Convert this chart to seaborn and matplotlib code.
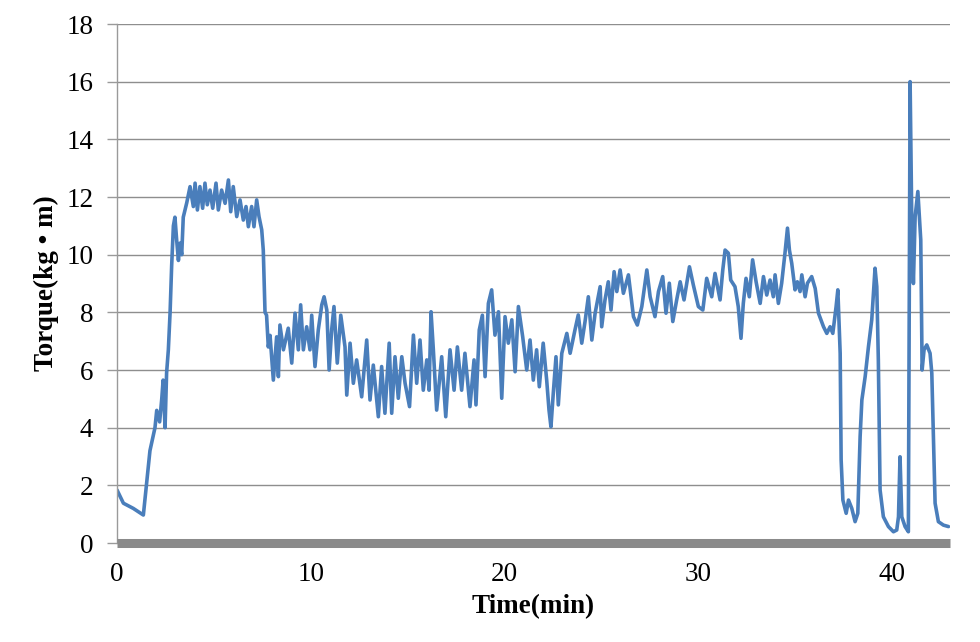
import matplotlib
matplotlib.use("Agg")
import matplotlib.pyplot as plt
import seaborn as sns
import pandas as pd

# ---- data ----
time_min = [
    0.00, 0.33, 0.84, 1.36, 1.53, 1.70, 1.96, 2.05, 2.20, 2.31, 2.38, 2.48, 2.56, 2.65, 2.74, 2.82,
    2.91, 2.99, 3.08, 3.17, 3.25, 3.34, 3.42, 3.60,
    3.77, 3.94, 4.03, 4.15, 4.28, 4.42, 4.54, 4.66, 4.80, 4.94, 5.11, 5.23, 5.40, 5.58, 5.75, 5.87,
    6.00, 6.18, 6.35, 6.52, 6.66, 6.78, 6.95, 7.07, 7.21, 7.33, 7.47, 7.55,
    7.64, 7.72, 7.81, 7.90, 8.07, 8.24, 8.33, 8.41, 8.59, 8.84, 9.02, 9.19, 9.36, 9.48, 9.62, 9.79,
    9.96, 10.05, 10.22, 10.39, 10.57, 10.69, 10.83, 10.95, 11.08, 11.20, 11.37, 11.55, 11.77, 11.86,
    12.03, 12.20, 12.37, 12.63, 12.89, 13.06, 13.23, 13.49, 13.66, 13.83, 14.05, 14.18, 14.35, 14.52,
    14.70, 14.87, 15.10, 15.30, 15.47, 15.64, 15.81, 15.99, 16.11, 16.21, 16.33, 16.50, 16.76, 16.97,
    17.19, 17.40, 17.57, 17.79, 17.96, 18.22, 18.43, 18.53, 18.70, 18.86, 19.00, 19.17, 19.34, 19.51,
    19.69, 19.86, 20.03, 20.20, 20.38, 20.55, 20.72, 20.94, 21.15, 21.32, 21.49, 21.66, 21.80, 22.00,
    22.18, 22.30, 22.40, 22.52, 22.66, 22.78, 22.96, 23.22, 23.39, 23.64, 23.81, 23.99, 24.16, 24.33,
    24.51, 24.68, 24.94, 25.02, 25.19, 25.36, 25.50, 25.66, 25.80, 25.97, 26.14, 26.40, 26.66, 26.86,
    27.09, 27.35, 27.52, 27.77, 27.95, 28.17, 28.34, 28.51, 28.69, 28.89, 29.07, 29.27, 29.55, 29.75,
    30.01, 30.24, 30.44, 30.70, 30.87, 31.13, 31.27, 31.39, 31.56, 31.68, 31.90, 32.07, 32.21, 32.33,
    32.47, 32.64, 32.81, 32.99, 33.20, 33.37, 33.54, 33.71, 33.88, 33.97, 34.14, 34.31, 34.48, 34.61,
    34.71, 34.83, 35.00, 35.12, 35.26, 35.35, 35.52, 35.64, 35.86, 36.04, 36.21, 36.47, 36.64, 36.81,
    36.95, 37.12, 37.21, 37.33, 37.38, 37.47, 37.64, 37.76, 37.93, 38.10, 38.24, 38.36, 38.45, 38.62,
    38.79, 38.96, 39.13, 39.22, 39.30, 39.39, 39.56, 39.82, 40.08, 40.25, 40.34, 40.42, 40.51, 40.68,
    40.85, 40.94, 41.03, 41.11, 41.20, 41.34, 41.42, 41.49, 41.56, 41.66, 41.80, 41.97, 42.06, 42.23,
    42.40, 42.66, 42.92,
]
torque = [
    1.84, 1.38, 1.20, 0.97, 2.07, 3.20, 4.00, 4.60, 4.20, 5.00, 5.65, 4.00, 5.90, 6.70, 8.00, 9.60,
    11.00, 11.30, 10.50, 9.80, 10.40, 10.00, 11.30, 11.80,
    12.36, 11.67, 12.48, 11.55, 12.36, 11.61, 12.48, 11.73, 12.24, 11.61, 12.48, 11.55, 12.24, 11.78, 12.59, 11.49,
    12.36, 11.32, 11.90, 11.20, 11.67, 10.97, 11.67, 10.97, 11.90, 11.32, 10.86, 10.16,
    8.00, 7.90, 6.80, 7.20, 5.65, 7.15, 5.77, 7.56, 6.70, 7.45, 6.24, 7.97, 6.70, 8.26, 6.70, 7.50,
    6.70, 7.90, 6.12, 7.39, 8.26, 8.54, 8.08, 6.00, 7.39, 8.20, 6.24, 7.90, 6.80, 5.13,
    6.93, 5.54, 6.35, 5.07, 7.04, 4.96, 6.17, 4.38, 6.12, 4.50, 6.93, 4.50, 6.46, 5.02,
    6.46, 5.54, 4.73, 7.21, 5.54, 7.04, 5.30, 6.35, 5.30, 8.02, 6.70, 4.61, 6.46, 4.38,
    6.70, 5.30, 6.80, 5.30, 6.58, 4.73, 6.35, 4.79, 7.39, 7.90, 5.77, 8.31, 8.78, 7.21,
    8.02, 5.02, 7.85, 6.93, 7.74, 5.94, 8.20, 7.16, 6.00, 7.04, 5.65, 6.70, 5.42, 6.93,
    5.65, 4.61, 4.03, 5.19, 6.46, 4.79, 6.58, 7.27, 6.58, 7.39, 7.91, 6.93, 7.68, 8.54,
    7.04, 7.97, 8.89, 7.50, 8.43, 9.06, 8.08, 9.41, 8.72, 9.47, 8.66, 9.30, 7.85, 7.56,
    8.20, 9.47, 8.54, 7.85, 8.72, 9.24, 7.97, 9.01, 7.68, 8.43, 9.06, 8.43, 9.58, 8.95,
    8.20, 8.08, 9.18, 8.54, 9.35, 8.43, 9.47, 10.16, 10.05, 9.12, 8.89, 8.20, 7.10, 8.31,
    9.18, 8.54, 9.82, 9.06, 8.31, 9.24, 8.60, 9.12, 8.54, 9.30, 8.31, 9.01, 10.05, 10.92,
    10.16, 9.70, 8.78, 9.06, 8.72, 9.30, 8.54, 9.01, 9.24, 8.83, 7.97, 7.50, 7.27, 7.50,
    7.27, 8.20, 8.78, 6.58, 2.88, 1.49, 1.03, 1.49, 1.20, 0.74, 1.03, 3.69, 4.96, 5.77,
    6.81, 7.74, 9.53, 8.89, 6.35, 1.84, 0.91, 0.57, 0.39, 0.45, 0.91, 2.99, 0.91, 0.57,
    0.39, 16.00, 10.97, 9.00, 11.32, 12.19, 11.32, 10.51, 6.00, 6.70, 6.87, 6.58, 5.89, 1.38,
    0.74, 0.62, 0.57,
]
x_ticks = [0, 10, 20, 30, 40]
y_ticks = [0, 2, 4, 6, 8, 10, 12, 14, 16, 18]
x_label = "Time(min)"
y_label = "Torque(kg • m)"

df = pd.DataFrame({"time": time_min, "torque": torque})

sns.set_theme(style="white")
plt.rcParams["font.family"] = ["Liberation Serif", "DejaVu Serif"]

fig = plt.figure(figsize=(9.8, 6.42), dpi=100)
ax = fig.add_axes([0.1194, 0.1542, 0.8500, 0.8084])

sns.lineplot(data=df, x="time", y="torque", estimator=None, sort=False,
             color="#4A7EBB", linewidth=2.6, ax=ax)

ax.set_xlim(0, 43)
ax.set_ylim(0, 18)
ax.set_xticks(x_ticks)
ax.set_yticks(y_ticks)
ax.set_xticklabels([str(v) for v in x_ticks])
ax.set_yticklabels([str(v) for v in y_ticks])

ax.yaxis.grid(True, color="#8e8e8e", linewidth=1.0)
ax.xaxis.grid(False)
ax.set_axisbelow(True)

for s in ["top", "right"]:
    ax.spines[s].set_visible(False)
ax.spines["left"].set_color("#9a9a9a")
ax.spines["left"].set_linewidth(1.0)
ax.spines["bottom"].set_color("#8a8a8a")
ax.spines["bottom"].set_linewidth(6.5)
ax.spines["bottom"].set_capstyle("butt")

ax.tick_params(axis="y", which="both", left=True, length=7, width=1.0,
               color="#9a9a9a", pad=10, labelsize=19.5, labelcolor="black")
ax.tick_params(axis="x", which="both", bottom=False, length=0, pad=14,
               labelsize=19.5, labelcolor="black")

ax.set_xlabel(x_label, fontsize=19.5, fontweight="bold", color="black", labelpad=5)
ax.set_ylabel(y_label, fontsize=19.5, fontweight="bold", color="black", labelpad=5)

fig.savefig("out.png", dpi=100, facecolor="white")
